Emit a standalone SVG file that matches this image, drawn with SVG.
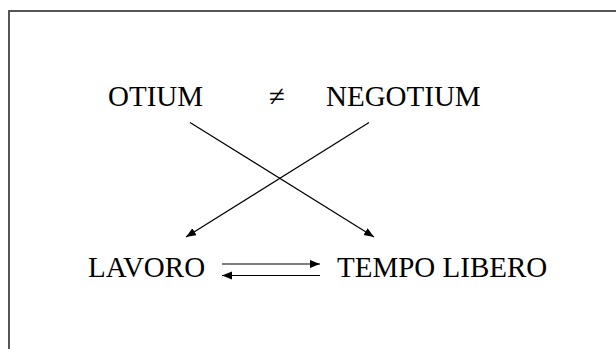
<svg xmlns="http://www.w3.org/2000/svg" width="616" height="349" viewBox="0 0 616 349">
<style>
.t{font-family:"Liberation Serif","Times New Roman",serif;font-size:29px;fill:#000}
.c{stroke:#000;stroke-width:1.2;fill:none}
</style>
<defs>
<marker id="ah" markerUnits="userSpaceOnUse" markerWidth="12" markerHeight="10" refX="10" refY="4" orient="auto">
<path d="M0,0 L10,4 L0,8 Z" fill="#000"/>
</marker>
</defs>
<rect width="616" height="349" fill="#fff"/>
<rect x="9" y="11" width="700" height="400" fill="none" stroke="#444" stroke-width="1.8"/>
<g id="otium"><text class="t" x="108" y="106">OTIUM</text></g>
<g id="neq"><text class="t" x="269" y="106">≠</text></g>
<g id="negotium"><text class="t" x="326" y="106">NEGOTIUM</text></g>
<g id="lavoro"><text class="t" x="88" y="277">LAVORO</text></g>
<g id="tempo"><text class="t" x="337" y="277">TEMPO LIBERO</text></g>
<g id="connectors">
<line class="c" x1="190" y1="122.5" x2="374" y2="237" marker-end="url(#ah)"/>
<line class="c" x1="369" y1="122.5" x2="186" y2="237" marker-end="url(#ah)"/>
<line class="c" x1="222" y1="264" x2="320" y2="264" marker-end="url(#ah)"/>
<line class="c" x1="320" y1="275.5" x2="222" y2="275.5" marker-end="url(#ah)"/>
</g>
</svg>
